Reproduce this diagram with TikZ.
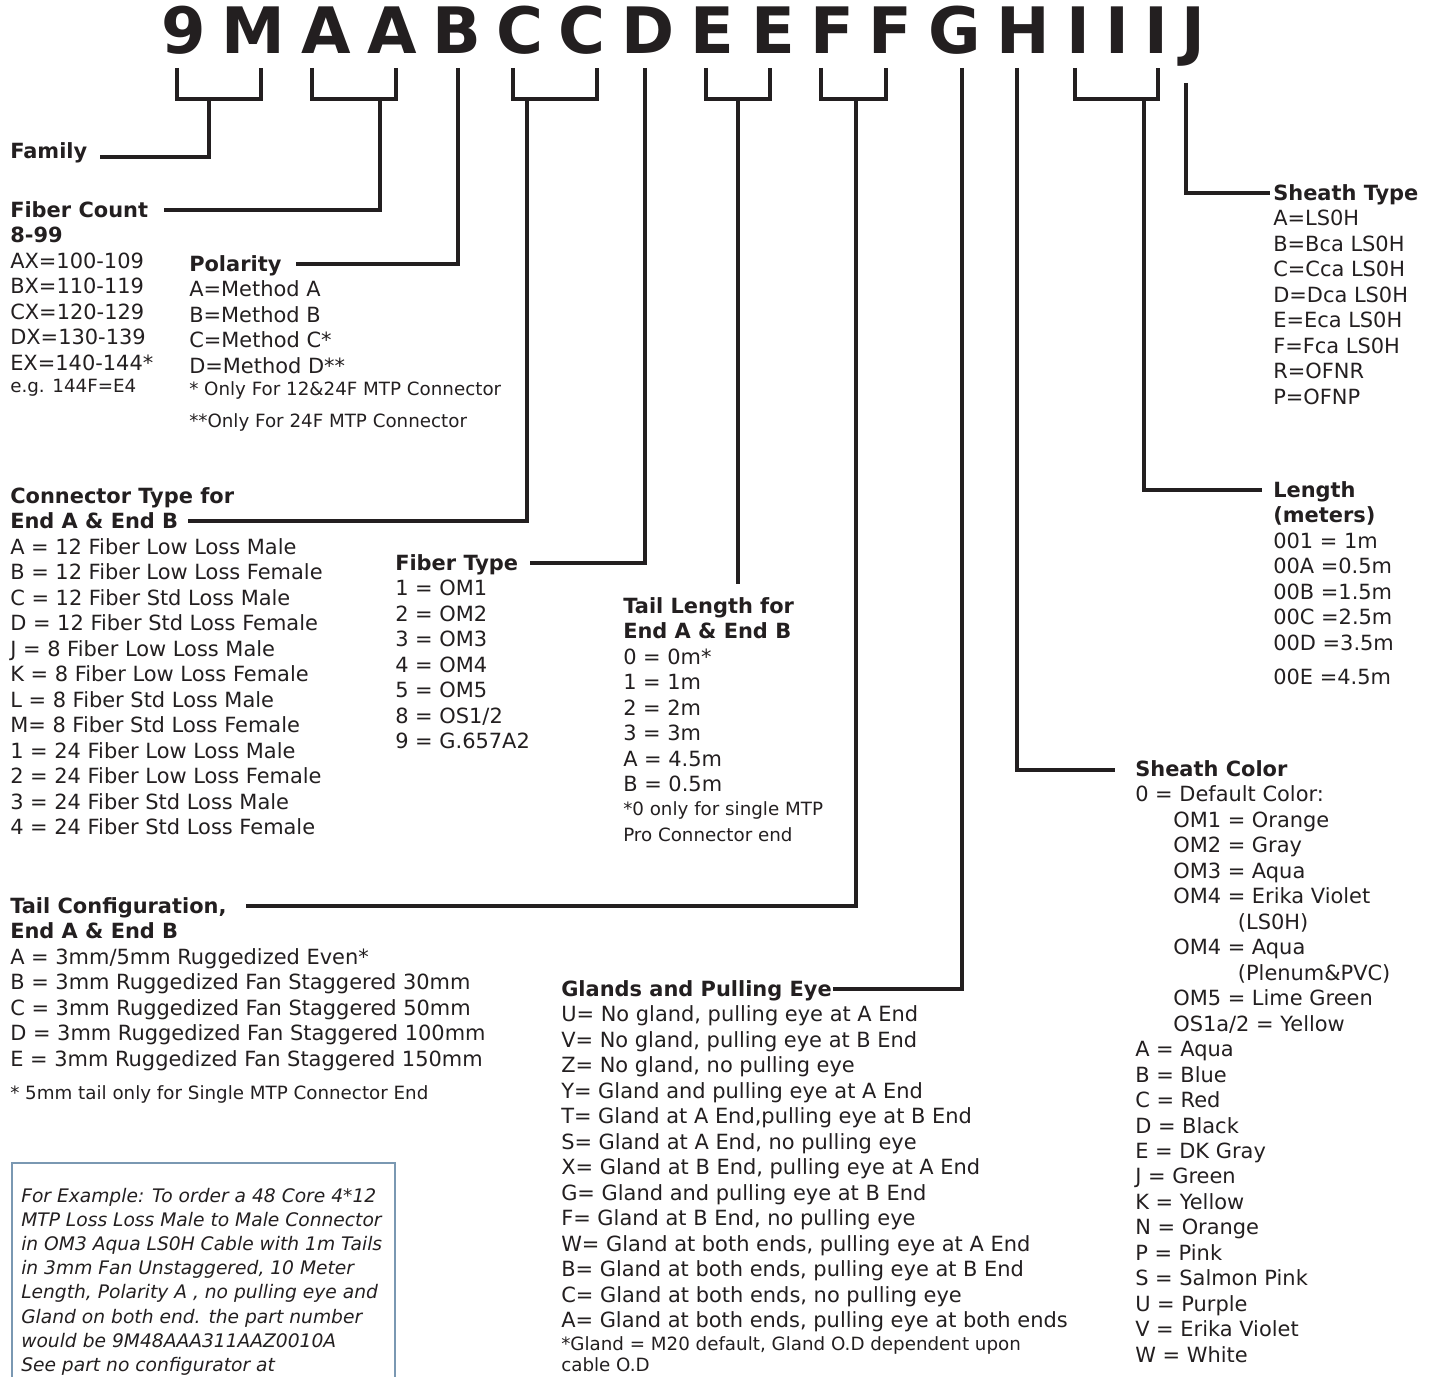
\documentclass[tikz,border=0pt]{standalone}
\usepackage{fontspec}
\setmainfont{DejaVu Sans}
\definecolor{ink}{RGB}{35,31,32}
\definecolor{boxc}{RGB}{122,152,178}
\newcommand\bodyf{\fontsize{15.7pt}{19.1pt}\selectfont}
\newcommand\notef{\fontsize{13.7pt}{16pt}\selectfont}
\newcommand\exf{\fontsize{14pt}{18.15pt}\selectfont\itshape}
\newcommand\bigf{\fontsize{48pt}{54pt}\selectfont\bfseries}
\newcommand\ind{\hspace*{28.5pt}}
\newcommand\indd{\hspace*{77pt}}
\begin{document}
\begin{tikzpicture}[x=0.75pt,y=-0.75pt,
  txt/.style={anchor=base west,inner sep=0pt,text=ink,font=\bodyf},
  note/.style={anchor=base west,inner sep=0pt,text=ink,font=\notef},
  big/.style={anchor=base,inner sep=0pt,text=ink,font=\bigf},
  lead/.style={draw=ink,line width=2.4pt},
  exbox/.style={draw=boxc,line width=1.1pt}]
\useasboundingbox (0,0) rectangle (1435,1377);

% ---- part number letters ----
\node[big] (L1) at (184,54) {9};
\node[big] (L2) at (253,54) {M};
\node[big] (L3) at (326,54) {A};
\node[big] (L4) at (392,54) {A};
\node[big] (L5) at (457,54) {B};
\node[big] (L6) at (520,54) {C};
\node[big] (L7) at (582,54) {C};
\node[big] (L8) at (648,54) {D};
\node[big] (L9) at (712,54) {E};
\node[big] (L10) at (773,54) {E};
\node[big] (L11) at (832,54) {F};
\node[big] (L12) at (890,54) {F};
\node[big] (L13) at (955,54) {G};
\node[big] (L14) at (1023,54) {H};
\node[big] (L15) at (1078,54) {I};
\node[big] (L16) at (1117,54) {I};
\node[big] (L17) at (1156,54) {I};
\node[big] (L18) at (1193,54) {J};

% ---- text blocks ----
\node[txt] (fam) at (10,158.5) {\textbf{Family}};

\node[txt] (fc) at (10,217.5) {\begin{tabular}[t]{@{}l@{}}
\textbf{Fiber Count}\\ \textbf{8-99}\\ AX=100-109\\ BX=110-119\\ CX=120-129\\ DX=130-139\\ EX=140-144*
\end{tabular}};
\node[note] (fcn) at (10,392) {e.g. 144F=E4};

\node[txt] (pol) at (189,271.5) {\begin{tabular}[t]{@{}l@{}}
\textbf{Polarity}\\ A=Method A\\ B=Method B\\ C=Method C*\\ D=Method D**
\end{tabular}};
\node[note] (poln1) at (189,395) {* Only For 12\&24F MTP Connector};
\node[note] (poln2) at (189,427) {**Only For 24F MTP Connector};

\node[txt] (ct) at (10,503.5) {\begin{tabular}[t]{@{}l@{}}
\textbf{Connector Type for}\\ \textbf{End A \& End B}\\
A = 12 Fiber Low Loss Male\\ B = 12 Fiber Low Loss Female\\
C = 12 Fiber Std Loss Male\\ D = 12 Fiber Std Loss Female\\
J = 8 Fiber Low Loss Male\\ K = 8 Fiber Low Loss Female\\
L = 8 Fiber Std Loss Male\\ M= 8 Fiber Std Loss Female\\
1 = 24 Fiber Low Loss Male\\ 2 = 24 Fiber Low Loss Female\\
3 = 24 Fiber Std Loss Male\\ 4 = 24 Fiber Std Loss Female
\end{tabular}};

\node[txt] (ft) at (395,570.5) {\begin{tabular}[t]{@{}l@{}}
\textbf{Fiber Type}\\ 1 = OM1\\ 2 = OM2\\ 3 = OM3\\ 4 = OM4\\ 5 = OM5\\ 8 = OS1/2\\ 9 = G.657A2
\end{tabular}};

\node[txt] (tl) at (623,613.5) {\begin{tabular}[t]{@{}l@{}}
\textbf{Tail Length for}\\ \textbf{End A \& End B}\\ 0 = 0m*\\ 1 = 1m\\ 2 = 2m\\ 3 = 3m\\ A = 4.5m\\ B = 0.5m
\end{tabular}};
\node[note] (tln1) at (623,815) {*0 only for single MTP};
\node[note] (tln2) at (623,841) {Pro Connector end};

\node[txt] (tc) at (10,913.5) {\begin{tabular}[t]{@{}l@{}}
\textbf{Tail Configuration,}\\ \textbf{End A \& End B}\\
A = 3mm/5mm Ruggedized Even*\\
B = 3mm Ruggedized Fan Staggered 30mm\\
C = 3mm Ruggedized Fan Staggered 50mm\\
D = 3mm Ruggedized Fan Staggered 100mm\\
E = 3mm Ruggedized Fan Staggered 150mm
\end{tabular}};
\node[note] (tcn) at (10,1099) {* 5mm tail only for Single MTP Connector End};

\node[txt] (gl) at (561,996.5) {\begin{tabular}[t]{@{}l@{}}
\textbf{Glands and Pulling Eye}\\
U= No gland, pulling eye at A End\\
V= No gland, pulling eye at B End\\
Z= No gland, no pulling eye\\
Y= Gland and pulling eye at A End\\
T= Gland at A End,pulling eye at B End\\
S= Gland at A End, no pulling eye\\
X= Gland at B End, pulling eye at A End\\
G= Gland and pulling eye at B End\\
F= Gland at B End, no pulling eye\\
W= Gland at both ends, pulling eye at A End\\
B= Gland at both ends, pulling eye at B End\\
C= Gland at both ends, no pulling eye\\
A= Gland at both ends, pulling eye at both ends
\end{tabular}};
\node[note] (gln1) at (561,1350) {*Gland = M20 default, Gland O.D dependent upon};
\node[note] (gln2) at (561,1371) {cable O.D};

\node[txt] (st) at (1273,200.5) {\begin{tabular}[t]{@{}l@{}}
\textbf{Sheath Type}\\ A=LS0H\\ B=Bca LS0H\\ C=Cca LS0H\\ D=Dca LS0H\\ E=Eca LS0H\\ F=Fca LS0H\\ R=OFNR\\ P=OFNP
\end{tabular}};

\node[txt] (len) at (1273,497.5) {\begin{tabular}[t]{@{}l@{}}
\textbf{Length}\\ \textbf{(meters)}\\ 001 = 1m\\ 00A =0.5m\\ 00B =1.5m\\ 00C =2.5m\\ 00D =3.5m
\end{tabular}};
\node[txt] (len2) at (1273,684) {00E =4.5m};

\node[txt] (sc) at (1135,776.5) {\begin{tabular}[t]{@{}l@{}}
\textbf{Sheath Color}\\ 0 = Default Color:\\
\ind OM1 = Orange\\ \ind OM2 = Gray\\ \ind OM3 = Aqua\\
\ind OM4 = Erika Violet\\ \indd (LS0H)\\
\ind OM4 = Aqua\\ \indd (Plenum\&PVC)\\
\ind OM5 = Lime Green\\ \ind OS1a/2 = Yellow\\
A = Aqua\\ B = Blue\\ C = Red\\ D = Black\\ E = DK Gray\\ J = Green\\ K = Yellow\\
N = Orange\\ P = Pink\\ S = Salmon Pink\\ U = Purple\\ V = Erika Violet\\ W = White
\end{tabular}};

% ---- example box ----
\coordinate (exbl) at (12,1380);
\coordinate (extl) at (12,1163);
\coordinate (extr) at (395,1163);
\coordinate (exbr) at (395,1380);
\draw[exbox] (exbl) -- (extl) -- (extr) -- (exbr);
\node[anchor=base west,inner sep=0pt,text=ink,font=\exf] (ex) at (21,1202) {\begin{tabular}[t]{@{}l@{}}
For Example: To order a 48 Core 4*12\\
MTP Loss Loss Male to Male Connector\\
in OM3 Aqua LS0H Cable with 1m Tails\\
in 3mm Fan Unstaggered, 10 Meter\\
Length, Polarity A , no pulling eye and\\
Gland on both end. the part number\\
would be 9M48AAA311AAZ0010A\\
See part no configurator at
\end{tabular}};

% ---- leader coordinates ----
\coordinate (famE) at (100,157);
\coordinate (fcE) at (164,210);
\coordinate (polE) at (296,264);
\coordinate (ctE) at (188,521);
\coordinate (ftE) at (530,563);
\coordinate (tlE) at (738,584);
\coordinate (tcE) at (246,906);
\coordinate (glE) at (833,989);
\coordinate (scE) at (1115,770);
\coordinate (lenE) at (1262,490);
\coordinate (stE) at (1270,193);

% ---- brackets and leaders ----
\draw[lead] (177,68) -- (177,99) -- (261,99) -- (261,68);
\draw[lead] (209,99) |- (famE);
\draw[lead] (312,68) -- (312,99) -- (396,99) -- (396,68);
\draw[lead] (380,99) |- (fcE);
\draw[lead] (458,68) |- (polE);
\draw[lead] (513,68) -- (513,99) -- (597,99) -- (597,68);
\draw[lead] (527,99) |- (ctE);
\draw[lead] (645,68) |- (ftE);
\draw[lead] (706,68) -- (706,99) -- (770,99) -- (770,68);
\draw[lead] (738,99) -- (tlE);
\draw[lead] (821,68) -- (821,99) -- (886,99) -- (886,68);
\draw[lead] (856,99) |- (tcE);
\draw[lead] (962,68) |- (glE);
\draw[lead] (1017,68) |- (scE);
\draw[lead] (1075,68) -- (1075,99) -- (1158,99) -- (1158,68);
\draw[lead] (1144,99) |- (lenE);
\draw[lead] (1186,83) |- (stE);
\end{tikzpicture}
\end{document}
